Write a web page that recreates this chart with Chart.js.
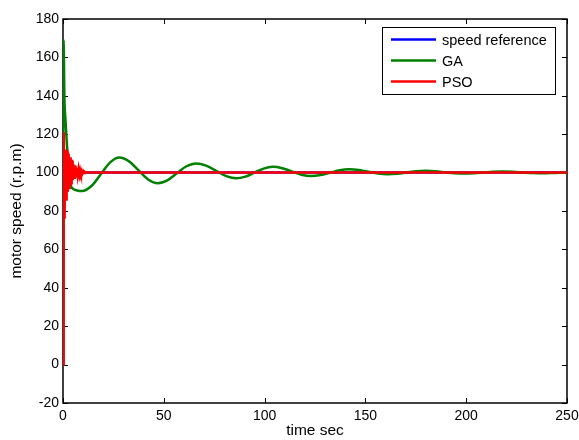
<!DOCTYPE html>
<html>
<head>
<meta charset="utf-8">
<script src="https://cdn.jsdelivr.net/npm/chart.js@4.4.1/dist/chart.umd.min.js"></script>
<style>
  html, body { margin: 0; padding: 0; background: #fff; }
  #wrap { width: 579px; height: 440px; }
</style>
</head>
<body>
<div id="wrap"><canvas id="speedChart" width="579" height="440"></canvas></div>
<script>
// tick labels
const xTicks = [0, 50, 100, 150, 200, 250];
const yTicks = [-20, 0, 20, 40, 60, 80, 100, 120, 140, 160, 180];

// speed reference
const refTime = [0, 250];
const refSpeed = [100, 100];

// GA controller response
const gaTime = [0, 0.3, 0.7, 1.2, 1.8, 2.5, 3.3, 4, 5, 7, 9.5,
  14.1, 18.75, 23.4, 28, 32.75, 37.5, 42.25, 47, 51.75, 56.5, 61.25, 66,
  71, 76, 81, 86, 90.5, 95, 99.5, 104, 108.75, 113.5, 118.25, 123,
  127.75, 132.5, 137.25, 142, 146.75, 151.5, 156.25, 161, 165.75, 170.5, 175.25, 180,
  184.75, 189.5, 194.25, 199, 203.75, 208.5, 213.25, 218, 223, 228, 233, 238, 244, 250];
const gaSpeed = [0, 169, 139, 128, 117, 106, 97, 93, 91.5, 90.7, 90.4,
  93.0, 99.15, 105.3, 107.8, 105.85, 101.15, 96.45, 94.5, 96.0, 99.65, 103.3, 104.8,
  103.65, 100.9, 98.15, 97, 97.9, 100, 102.1, 103, 102.3, 100.6, 98.9, 98.2,
  98.7, 99.95, 101.2, 101.7, 101.33, 100.45, 99.57, 99.2, 99.45, 100.05, 100.65, 100.9,
  100.7, 100.2, 99.7, 99.5, 99.66, 100.05, 100.44, 100.6, 100.45, 100.1, 99.75, 99.6, 99.85, 100.1];

// PSO controller response
const psoTime = [0, 0.35, 0.8, 1.05, 1.25, 1.5, 1.7, 1.9, 2.1, 2.3, 2.5, 2.7, 2.9, 3.1, 3.3, 3.5, 3.7, 3.9, 4.1,
  4.3, 4.5, 4.7, 4.9, 5.1, 5.3, 5.5, 5.7, 5.9, 6.1, 6.3, 6.5, 6.9, 7.3, 7.7, 8.1, 8.5, 8.9,
  9.3, 9.7, 10.1, 10.5, 10.9, 11.4, 250];
const psoSpeed = [0, 121, 76, 110, 112, 86, 88, 111, 111, 90, 92, 110, 110, 92, 93, 108, 108, 94, 94.5,
  106, 106, 96, 96, 104.5, 104.5, 97.3, 97.3, 103.2, 103.2, 98, 98, 102.4, 98.6, 101.8, 99.1, 101.3, 99.4,
  100.9, 99.6, 100.6, 99.8, 100.3, 100, 100];

function toPoints(xs, ys) {
    return xs.map((x, i) => ({ x: x, y: ys[i] }));
}

const tickFont = { family: 'Liberation Sans, Arial, sans-serif', size: 14 };
const titleFont = { family: 'Liberation Sans, Arial, sans-serif', size: 15.5 };
const legendFont = '14.5px "Liberation Sans", Arial, sans-serif';

// MATLAB style box with inward ticks on all four sides
const frameBox = {
    id: 'frameBox',
    beforeDatasetsDraw(chart) {
        const { ctx, chartArea: a, scales: { x, y } } = chart;
        ctx.save();
        ctx.strokeStyle = '#000';
        ctx.lineWidth = 1.5;
        ctx.strokeRect(a.left, a.top, a.right - a.left, a.bottom - a.top);
        ctx.lineWidth = 1;
        ctx.beginPath();
        xTicks.forEach(v => {
            const px = Math.round(x.getPixelForValue(v)) + 0.5;
            ctx.moveTo(px, a.bottom); ctx.lineTo(px, a.bottom - 5);
            ctx.moveTo(px, a.top); ctx.lineTo(px, a.top + 5);
        });
        yTicks.forEach(v => {
            const py = Math.round(y.getPixelForValue(v)) + 0.5;
            ctx.moveTo(a.left, py); ctx.lineTo(a.left + 5, py);
            ctx.moveTo(a.right, py); ctx.lineTo(a.right - 5, py);
        });
        ctx.stroke();
        ctx.restore();
    },
    afterDraw(chart) {
        // legend box inside the plot, top right
        const { ctx, chartArea: a } = chart;
        const boxRight = a.right - 12, boxTop = a.top + 8;
        const boxW = 173, boxH = 67;
        const boxLeft = boxRight - boxW;
        ctx.save();
        ctx.fillStyle = '#fff';
        ctx.fillRect(boxLeft, boxTop, boxW, boxH);
        ctx.strokeStyle = '#000';
        ctx.lineWidth = 1;
        ctx.strokeRect(boxLeft + 0.5, boxTop + 0.5, boxW, boxH);
        ctx.font = legendFont;
        ctx.textBaseline = 'middle';
        ctx.textAlign = 'left';
        chart.data.datasets.forEach((ds, i) => {
            const cy = boxTop + 12.5 + i * 21;
            ctx.strokeStyle = ds.borderColor;
            ctx.lineWidth = 2.5;
            ctx.beginPath();
            ctx.moveTo(boxLeft + 9, cy);
            ctx.lineTo(boxLeft + 54, cy);
            ctx.stroke();
            ctx.fillStyle = '#000';
            ctx.fillText(ds.label, boxLeft + 60, cy + 1);
        });
        ctx.restore();
    }
};

const chartCanvas = document.getElementById('speedChart');

new Chart(chartCanvas, {
    type: 'line',
    data: {
        datasets: [
            {
                label: 'speed reference',
                data: toPoints(refTime, refSpeed),
                borderColor: '#0000ff',
                borderWidth: 2.5,
                pointRadius: 0,
                order: 3
            },
            {
                label: 'GA',
                data: toPoints(gaTime, gaSpeed),
                borderColor: '#008000',
                borderWidth: 2.5,
                pointRadius: 0,
                cubicInterpolationMode: 'monotone',
                order: 2
            },
            {
                label: 'PSO',
                data: toPoints(psoTime, psoSpeed),
                borderColor: '#ff0000',
                borderWidth: 2.5,
                pointRadius: 0,
                order: 1
            }
        ]
    },
    options: {
        responsive: false,
        animation: false,
        events: [],
        layout: { padding: { top: 19, right: 12, left: 0, bottom: 0 } },
        plugins: {
            legend: { display: false },
            tooltip: { enabled: false }
        },
        scales: {
            x: {
                type: 'linear',
                min: 0,
                max: 250,
                grid: { display: false, drawTicks: false },
                border: { display: false },
                ticks: { font: tickFont, color: '#000', padding: 5, maxRotation: 0 },
                title: { display: true, text: 'time sec', font: titleFont, color: '#000', padding: { top: 0, bottom: 0 } },
                afterBuildTicks: s => { s.ticks = xTicks.map(v => ({ value: v })); },
                afterFit: s => {
                    s.height = 37;
                    s.paddingLeft = 0;
                    s.paddingRight = 0;
                }
            },
            y: {
                type: 'linear',
                min: -20,
                max: 180,
                grid: { display: false, drawTicks: false },
                border: { display: false },
                ticks: { font: tickFont, color: '#000', padding: 4 },
                title: { display: true, text: 'motor speed (r.p.m)', font: titleFont, color: '#000', padding: { top: 7, bottom: 0 } },
                afterBuildTicks: s => { s.ticks = yTicks.map(v => ({ value: v })); },
                afterFit: s => {
                    s.width = 63;
                    s.paddingTop = 0;
                    s.paddingBottom = 0;
                }
            }
        }
    },
    plugins: [frameBox]
});
</script>
</body>
</html>
